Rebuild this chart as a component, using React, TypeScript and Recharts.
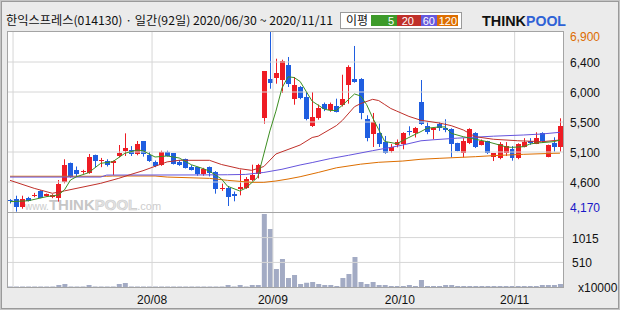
import React from "react";
import { ComposedChart, Bar, Line, XAxis, YAxis, ReferenceLine } from "recharts";

// trading days, 2020/06/30 ~ 2020/11/11 (92 days)
const junDays = [30];
const julDays = [1, 2, 3, 6, 7, 8, 9, 10, 13, 14, 15, 16, 17, 20, 21, 22, 23, 24, 27, 28, 29, 30, 31];
const augDays = [3, 4, 5, 6, 7, 10, 11, 12, 13, 14, 18, 19, 20, 21, 24, 25, 26, 27, 28, 31];
const sepDays = [1, 2, 3, 4, 7, 8, 9, 10, 11, 14, 15, 16, 17, 18, 21, 22, 23, 24, 25, 28, 29];
const octDays = [5, 6, 7, 8, 12, 13, 14, 15, 16, 19, 20, 21, 22, 23, 26, 27, 28, 29, 30];
const novDays = [2, 3, 4, 5, 6, 9, 10, 11];

const monthStarts = ["07/01", "08/03", "09/01", "10/05", "11/02"];
const monthLabels = ["", "20/08", "20/09", "20/10", "20/11"];

const opens = [
  4345, 4363, 4250, 4387, 4415, 4484, 4420, 4405, 4387, 4630,
  4908, 4807, 4770, 4766, 5030, 4950, 4950, 4920, 5020, 5095,
  5110, 5050, 5247, 5039, 4928, 4888, 5080, 5065, 4928, 4974,
  4848, 4848, 4751, 4848, 4772, 4520, 4535, 4439, 4524, 4535,
  4651, 4751, 5596, 6187, 6207, 6177, 6395, 5889, 6066, 5914,
  5470, 5596, 5802, 5722, 5778, 5797, 6092, 6182, 6192, 5576,
  5358, 5368, 5232, 5091, 5191, 5206, 5405, 5373, 5843, 5474,
  5414, 5505, 5440, 5429, 5212, 5060, 5212, 5363, 5186, 5247,
  5009, 4984, 5070, 5121, 4984, 5161, 5247, 5201, 5363, 5009,
  5222, 5161,
];
const highs = [
  4365, 4417, 4417, 4400, 4460, 4500, 4450, 4440, 4655, 4970,
  4920, 4860, 4810, 5050, 5040, 4990, 4970, 4950, 5186, 5363,
  5170, 5247, 5247, 5080, 4950, 5100, 5100, 5065, 4960, 4980,
  4880, 4850, 4840, 4860, 4790, 4600, 4565, 4480, 4812, 4700,
  4888, 4900, 6304, 6900, 6495, 6480, 6521, 6217, 6080, 5990,
  5990, 5800, 5830, 5830, 5889, 6252, 6395, 6688, 6200, 5637,
  5672, 5509, 5323, 5200, 5270, 5380, 5470, 5460, 6172, 5530,
  5450, 5530, 5576, 5440, 5220, 5290, 5440, 5380, 5270, 5250,
  5060, 5230, 5230, 5170, 5212, 5290, 5290, 5379, 5379, 5192,
  5303, 5591,
];
const lows = [
  4300, 4175, 4220, 4330, 4395, 4380, 4400, 4380, 4327, 4605,
  4690, 4700, 4750, 4750, 4850, 4850, 4860, 4730, 5000, 5020,
  5020, 5030, 5010, 4930, 4850, 4870, 5010, 4890, 4870, 4830,
  4800, 4720, 4720, 4710, 4448, 4490, 4261, 4332, 4423, 4520,
  4640, 4680, 5509, 6040, 6116, 5975, 6066, 5797, 5880, 5560,
  5460, 5570, 5700, 5690, 5680, 5770, 5813, 6131, 5576, 5242,
  5156, 5156, 5054, 5070, 5150, 5121, 5330, 5300, 5490, 5350,
  5273, 5400, 5380, 4999, 5090, 4999, 5200, 5140, 5180, 5050,
  4943, 4970, 5020, 4948, 4970, 5150, 5190, 5200, 5220, 5000,
  5085, 5085,
];
const closes = [
  4330, 4250, 4363, 4341, 4430, 4387, 4440, 4425, 4595, 4883,
  4706, 4746, 4790, 5000, 4948, 4965, 4890, 4945, 5060, 5145,
  5050, 5201, 5050, 4944, 4868, 5080, 5020, 4903, 4888, 4842,
  4812, 4751, 4822, 4757, 4524, 4535, 4402, 4408, 4549, 4675,
  4736, 4888, 6304, 6127, 6278, 6456, 6116, 6092, 5904, 5585,
  5611, 5747, 5737, 5813, 5687, 5879, 6369, 6142, 5672, 5292,
  5535, 5206, 5070, 5156, 5232, 5368, 5385, 5444, 5500, 5388,
  5440, 5439, 5410, 5197, 5100, 5247, 5429, 5161, 5247, 5060,
  5060, 5201, 5171, 4984, 5197, 5237, 5212, 5288, 5252, 5192,
  5161, 5474,
];
// volume, x10000 shares
const volumes = [
  22, 22, 22, 22, 22, 22, 22, 22, 50, 70,
  22, 22, 22, 50, 22, 22, 22, 22, 70, 90,
  22, 22, 22, 22, 22, 22, 22, 22, 22, 22,
  22, 22, 22, 22, 22, 22, 50, 22, 50, 22,
  50, 50, 1492, 1188, 376, 579, 193, 254, 71, 97,
  112, 71, 50, 50, 30, 193, 274, 619, 112, 71,
  112, 50, 50, 30, 30, 30, 50, 30, 152, 30,
  30, 30, 50, 50, 30, 30, 30, 30, 30, 30,
  30, 30, 30, 30, 30, 30, 30, 30, 50, 50,
  50, 71,
];

// moving averages: [day index, value]
const ma5Points = [
  [0, 4327], [3, 4340], [6, 4402], [8, 4428], [9, 4504], [10, 4655], [11, 4705], [13, 4766],
  [15, 4908], [17, 4933], [19, 5060], [21, 5110], [22, 5100], [23, 5050], [24, 5004], [26, 5020],
  [28, 4989], [30, 4887], [32, 4827], [33, 4790], [35, 4670], [36, 4560], [38, 4490], [39, 4530],
  [41, 4700], [42, 5050], [43, 5400], [44, 5700], [45, 6050], [46, 6220], [47, 6210], [48, 6150],
  [49, 6000], [50, 5850], [52, 5730], [53, 5710], [54, 5710], [55, 5790], [57, 5960], [58, 5930],
  [59, 5800], [60, 5600], [61, 5420], [62, 5240], [64, 5206], [66, 5300], [68, 5390], [69, 5440],
  [71, 5460], [72, 5460], [73, 5363], [75, 5312], [77, 5273], [79, 5236], [81, 5186], [82, 5160],
  [83, 5150], [85, 5161], [86, 5200], [87, 5215], [88, 5222], [90, 5237], [91, 5262],
];
const ma20Points = [
  [0, 4650], [4, 4529], [7, 4454], [9, 4490], [15, 4605], [18, 4681], [20, 4740], [22, 4796],
  [26, 4930], [28, 4954], [33, 4954], [35, 4890], [38, 4827], [40, 4802], [42, 4860], [44, 5050],
  [48, 5186], [50, 5300], [51, 5320], [54, 5480], [55, 5560], [57, 5767], [58, 5813], [60, 5879],
  [61, 5860], [62, 5800], [63, 5740], [64, 5700], [66, 5620], [68, 5561], [71, 5520], [73, 5480],
  [75, 5414], [77, 5312], [80, 5273], [84, 5251], [88, 5236], [91, 5262],
];
const ma60Points = [
  [0, 4700], [15, 4700], [16, 4730], [31, 4732], [36, 4735], [39, 4740], [42, 4770], [45, 4818],
  [48, 4883], [50, 4920], [53, 4980], [56, 5030], [60, 5100], [63, 5150], [65, 5186], [68, 5250],
  [70, 5265], [74, 5290], [80, 5320], [85, 5338], [88, 5353], [91, 5379],
];
const ma120Points = [
  [0, 4712], [16, 4712], [17, 4716], [24, 4716], [26, 4700], [33, 4680], [36, 4650], [40, 4620],
  [42, 4620], [44, 4640], [46, 4670], [48, 4705], [51, 4770], [54, 4840], [58, 4895], [61, 4924],
  [65, 4943], [68, 4970], [71, 4984], [77, 5009], [80, 5025], [85, 5045], [90, 5060], [91, 5062],
];

const priceTicks = [6900, 6445, 5990, 5535, 5080, 4625, 4170];
const priceTickLabels = ["6,900", "6,400", "6,000", "5,500", "5,100", "4,600", "4,170"];
const volTicks = [510, 1015];
const volTickLabels = ["510", "1015"];

const RED = "#ee1c24";
const BLUE = "#1f5ee0";
const MA_COLORS = { ma5: "#3d8f22", ma20: "#c0302a", ma60: "#6655dd", ma120: "#dd6e00" };
const GRID = "#d6d6d6";
const NUM_FONT = "'Liberation Sans', Arial, sans-serif";
const KR_FONT = "'Noto Sans CJK KR', 'Noto Sans', sans-serif";

const dates = [
  ...junDays.map((d) => `06/${String(d).padStart(2, "0")}`),
  ...julDays.map((d) => `07/${String(d).padStart(2, "0")}`),
  ...augDays.map((d) => `08/${String(d).padStart(2, "0")}`),
  ...sepDays.map((d) => `09/${String(d).padStart(2, "0")}`),
  ...octDays.map((d) => `10/${String(d).padStart(2, "0")}`),
  ...novDays.map((d) => `11/${String(d).padStart(2, "0")}`),
];

const pick = (pts: number[][], i: number) => {
  const p = pts.find((q) => q[0] === i);
  return p ? p[1] : null;
};

const rows = dates.map((date, i) => ({
  date,
  open: opens[i],
  high: highs[i],
  low: lows[i],
  close: closes[i],
  range: [lows[i], highs[i]],
  vol: volumes[i],
  ma5: pick(ma5Points, i),
  ma20: pick(ma20Points, i),
  ma60: pick(ma60Points, i),
  ma120: pick(ma120Points, i),
}));

// candle drawn inside the low-high range bar
const CandleShape = (props: any) => {
  const { x, y, width, height, payload } = props;
  if (height == null || !payload) return null;
  const { open, close, high, low } = payload;
  const color = close >= open ? RED : BLUE;
  const span = high - low || 1;
  const toY = (v: number) => y + ((high - v) / span) * height;
  const top = toY(Math.max(open, close));
  const bottom = toY(Math.min(open, close));
  const left = Math.round(x);
  const cx = left + Math.floor(width / 2) + 0.5;
  return (
    <g>
      <line x1={cx} x2={cx} y1={y} y2={y + height} stroke={color} strokeWidth={1} />
      <rect
        x={left}
        y={top}
        width={width}
        height={Math.max(bottom - top, 1)}
        fill={color}
        shapeRendering="crispEdges"
      />
    </g>
  );
};

const PriceTick = (props: any) => {
  const { x, y, payload } = props;
  const k = priceTicks.indexOf(payload.value);
  const last = priceTicks.length - 1;
  const fill = k === 0 ? "#dd6b00" : k === last ? "#1818c8" : "#111";
  const dy = k === 0 ? 9 : k === last ? 0 : 5;
  return (
    <text x={x} y={y + dy} fill={fill} fontSize={12} fontFamily={NUM_FONT}>
      {priceTickLabels[k]}
    </text>
  );
};

const VolTick = (props: any) => {
  const { x, y, payload } = props;
  const k = volTicks.indexOf(payload.value);
  return (
    <text x={x} y={y + 5} fill="#111" fontSize={12} fontFamily={NUM_FONT}>
      {volTickLabels[k]}
    </text>
  );
};

const DateTick = (props: any) => {
  const { x, y, payload } = props;
  const k = monthStarts.indexOf(payload.value);
  return (
    <text x={x - 3} y={y + 16.5} textAnchor="middle" fill="#111" fontSize={12} fontFamily={NUM_FONT}>
      {monthLabels[k]}
    </text>
  );
};

const layer: React.CSSProperties = { position: "absolute", left: 0, top: 0 };

export default function App() {
  return (
    <div style={{ position: "absolute", left: 0, top: 0, width: 620, height: 310, background: "#ebebeb", overflow: "hidden" }}>
      {/* background: frame, panels, watermark */}
      <svg width={620} height={310} style={layer}>
        <rect x={0.5} y={0.5} width={619} height={309} fill="#ebebeb" stroke="#c4c4c4" />
        <rect x={1.5} y={1.5} width={617} height={307} fill="none" stroke="#9a9a9a" />
        <rect x={7.5} y={31.5} width={556} height={256} fill="#ffffff" />
        <text x={25} y={210} fontFamily={NUM_FONT} fill="#cdcdcd">
          <tspan fontSize={10}>www.</tspan>
          <tspan fontSize={15} fontWeight={900} fill="#c6c6c6">THINK</tspan>
          <tspan fontSize={15} fontWeight={900} fill="#e4e4e4" stroke="#cccccc" strokeWidth={0.6}>POOL</tspan>
          <tspan fontSize={11}>.com</tspan>
        </text>
      </svg>

      {/* price panel */}
      <div style={layer}>
        <ComposedChart width={620} height={310} data={rows} margin={{ top: 32, right: 0, bottom: 98, left: 7 }}>
          <XAxis dataKey="date" hide />
          <YAxis
            orientation="right"
            width={57}
            domain={[4170, 6900]}
            ticks={priceTicks}
            interval={0}
            axisLine={false}
            tickLine={false}
            tickSize={0}
            tickMargin={7}
            tick={<PriceTick />}
            allowDataOverflow
          />
          {priceTicks.slice(1, -1).map((v) => (
            <ReferenceLine key={`h${v}`} y={v} stroke={GRID} strokeWidth={1} />
          ))}
          {monthStarts.map((d) => (
            <ReferenceLine key={`v${d}`} x={d} position="start" stroke={GRID} strokeWidth={1} />
          ))}
          <Bar dataKey="range" barSize={5} shape={<CandleShape />} isAnimationActive={false} />
          <Line dataKey="ma120" stroke={MA_COLORS.ma120} strokeWidth={1} dot={false} connectNulls isAnimationActive={false} />
          <Line dataKey="ma60" stroke={MA_COLORS.ma60} strokeWidth={1} dot={false} connectNulls isAnimationActive={false} />
          <Line dataKey="ma20" stroke={MA_COLORS.ma20} strokeWidth={1} dot={false} connectNulls isAnimationActive={false} />
          <Line dataKey="ma5" stroke={MA_COLORS.ma5} strokeWidth={1} dot={false} connectNulls isAnimationActive={false} />
        </ComposedChart>
      </div>

      {/* volume panel */}
      <div style={layer}>
        <ComposedChart width={620} height={310} data={rows} margin={{ top: 212.5, right: 0, bottom: 0, left: 7 }}>
          <XAxis
            dataKey="date"
            height={22.5}
            ticks={monthStarts.slice(1)}
            interval={0}
            axisLine={false}
            tickLine={false}
            tickSize={0}
            tickMargin={0}
            tick={<DateTick />}
          />
          <YAxis
            orientation="right"
            width={57}
            domain={[0, 1525]}
            ticks={volTicks}
            interval={0}
            axisLine={false}
            tickLine={false}
            tickSize={0}
            tickMargin={9}
            tick={<VolTick />}
            allowDataOverflow
          />
          {volTicks.map((v) => (
            <ReferenceLine key={`vh${v}`} y={v} stroke={GRID} strokeWidth={1} />
          ))}
          {monthStarts.map((d) => (
            <ReferenceLine key={`vv${d}`} x={d} position="start" stroke={GRID} strokeWidth={1} />
          ))}
          <Bar dataKey="vol" barSize={5} fill="#a3abc4" minPointSize={1} isAnimationActive={false} />
        </ComposedChart>
      </div>

      {/* foreground: borders, title, legend, logo */}
      <svg width={620} height={310} style={{ ...layer, pointerEvents: "none" }}>
        <rect x={7.5} y={31.5} width={556} height={181} fill="none" stroke="#a4a4a4" />
        <rect x={7.5} y={212.5} width={556} height={75} fill="none" stroke="#a4a4a4" />
        <text x={6} y={25} fontSize={12} fill="#111" fontFamily={KR_FONT} textLength={327} lengthAdjust="spacingAndGlyphs">
          한익스프레스(014130) · 일간(92일) 2020/06/30 ~ 2020/11/11
        </text>
        <rect x={340.5} y={12.5} width={121} height={16} fill="#ffffff" stroke="#9a9a9a" />
        <text x={346} y={25} fontSize={12} fill="#111" fontFamily={KR_FONT}>이평</text>
        <rect x={371} y={15} width={26} height={11} fill="#3d9a2a" />
        <rect x={397} y={15} width={24} height={11} fill="#c0302a" />
        <rect x={421} y={15} width={16} height={11} fill="#6659dd" />
        <rect x={437} y={15} width={21} height={11} fill="#dd6e00" />
        <g fontSize={11} fill="#ffffff" fontFamily={NUM_FONT} textAnchor="end">
          <text x={394} y={25}>5</text>
          <text x={414} y={25}>20</text>
          <text x={435} y={25}>60</text>
          <text x={457} y={25}>120</text>
        </g>
        <text x={482} y={26} fontSize={15} fontWeight={900} fill="#111" fontFamily={NUM_FONT} textLength={44} lengthAdjust="spacingAndGlyphs">THINK</text>
        <text x={526} y={26} fontSize={15} fontWeight={900} fill="#2f62d6" fontFamily={NUM_FONT} textLength={40} lengthAdjust="spacingAndGlyphs">POOL</text>
        <text x={578} y={292} fontSize={12} fill="#111" fontFamily={NUM_FONT}>x10000</text>
      </svg>
    </div>
  );
}
